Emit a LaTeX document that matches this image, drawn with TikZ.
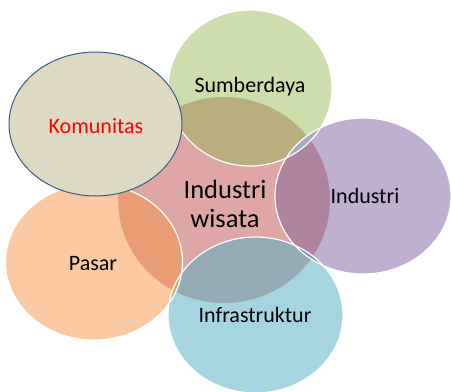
\documentclass[tikz,border=0pt]{standalone}
\usepackage{fontspec}
\setmainfont{Carlito}
\definecolor{pinkc}{RGB}{223,166,166}
\definecolor{greenc}{RGB}{205,221,172}
\definecolor{purplec}{RGB}{191,176,210}
\definecolor{orangec}{RGB}{250,201,162}
\definecolor{bluec}{RGB}{166,213,226}
\definecolor{komc}{RGB}{221,217,195}
\definecolor{komborder}{RGB}{56,93,138}
\definecolor{olivec}{RGB}{187,174,125}
\definecolor{ppc}{RGB}{175,131,158}
\definecolor{opc}{RGB}{233,157,116}
\definecolor{bpc}{RGB}{148,170,180}
\definecolor{gpc}{RGB}{168,172,190}
\definecolor{pbc}{RGB}{128,150,185}
\definecolor{obc}{RGB}{200,170,130}
\def\pinkE{(224,200) ellipse [x radius=106, y radius=103]}
\def\greenE{(250,88) ellipse [x radius=82, y radius=78]}
\def\komE{(95.5,124) ellipse [x radius=86.5, y radius=72]}
\def\purpleE{(363,196) ellipse [x radius=88, y radius=78]}
\def\orangeE{(94,262) ellipse [x radius=88.5, y radius=78]}
\def\blueE{(255.5,315) ellipse [x radius=87.5, y radius=78]}
\tikzset{
  outline/.style={draw=white, line width=1.2pt},
  lbl/.style={font=\fontsize{22}{25}\selectfont, text=black, inner sep=0pt},
  bigl/.style={font=\fontsize{26.5}{28}\selectfont, text=black, inner sep=0pt, align=center}
}
\begin{document}
\begin{tikzpicture}[x=1pt,y=-1pt]
\useasboundingbox (0,0) rectangle (452,391);
% base fills
\fill[pinkc] \pinkE;
\fill[greenc] \greenE;
\fill[purplec] \purpleE;
\fill[orangec] \orangeE;
\fill[bluec] \blueE;
% overlaps with the centre
\begin{scope}\clip \pinkE; \fill[olivec] \greenE; \end{scope}
\begin{scope}\clip \pinkE; \fill[ppc] \purpleE; \end{scope}
\begin{scope}\clip \pinkE; \fill[opc] \orangeE; \end{scope}
\begin{scope}\clip \pinkE; \fill[bpc] \blueE; \end{scope}
% small overlaps between neighbours
\begin{scope}\clip \greenE; \fill[gpc] \purpleE; \end{scope}
\begin{scope}\clip \purpleE; \fill[pbc] \blueE; \end{scope}
\begin{scope}\clip \orangeE; \fill[obc] \blueE; \end{scope}
% white outlines
\draw[outline] \greenE;
\draw[outline] \purpleE;
\draw[outline] \orangeE;
\draw[outline] \blueE;
% Komunitas
\filldraw[fill=komc, draw=komborder, line width=1pt] \komE;
% labels
\node[bigl] (center) at (225,204) {Industri\\[1pt]wisata};
\node[lbl] (sumber) at (250,87) {Sumberdaya};
\node[lbl, text=red] (komun) at (96,126) {Komunitas};
\node[lbl] (indus) at (365,196) {Industri};
\node[lbl] (pasar) at (93,264) {Pasar};
\node[lbl] (infra) at (255,315) {Infrastruktur};
\end{tikzpicture}
\end{document}
